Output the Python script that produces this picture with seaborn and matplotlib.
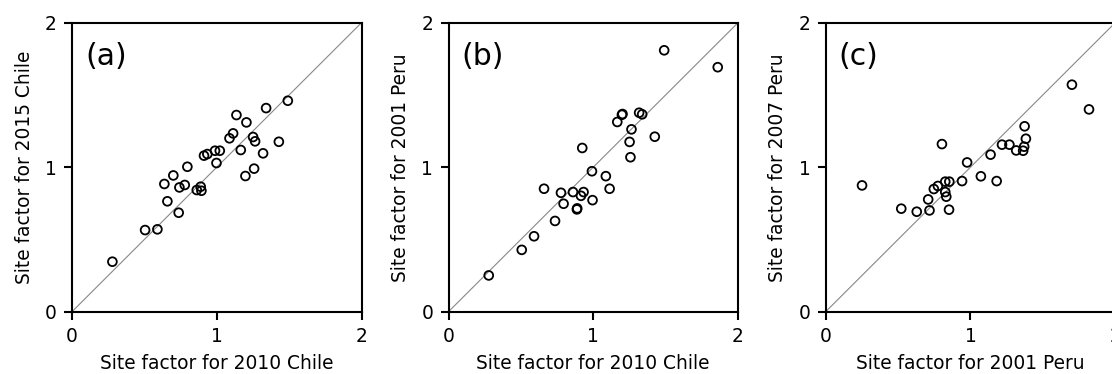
import matplotlib
matplotlib.use("Agg")
import matplotlib.pyplot as plt
import seaborn as sns
import pandas as pd

# Panel (a): 2010 Chile vs 2015 Chile
a_x = [0.279, 0.505, 0.590, 0.737, 0.659, 0.638, 0.700, 0.742, 0.779, 0.797,
       0.862, 0.889, 0.894, 0.912, 0.935, 0.988, 1.021, 0.998, 1.088, 1.113,
       1.136, 1.166, 1.205, 1.198, 1.251, 1.265, 1.258, 1.320, 1.341, 1.429, 1.491]
a_y = [0.346, 0.565, 0.570, 0.685, 0.764, 0.884, 0.943, 0.860, 0.877, 1.003,
       0.842, 0.865, 0.837, 1.080, 1.091, 1.114, 1.114, 1.029, 1.200, 1.234,
       1.361, 1.119, 1.310, 0.939, 1.209, 1.179, 0.990, 1.096, 1.409, 1.176, 1.460]

# Panel (b): 2010 Chile vs 2001 Peru
b_x = [0.278, 0.506, 0.591, 0.736, 0.660, 0.777, 0.795, 0.860, 0.887, 0.889,
       0.915, 0.933, 0.995, 0.991, 0.924, 1.087, 1.113, 1.166, 1.198, 1.202,
       1.264, 1.251, 1.257, 1.317, 1.338, 1.425, 1.490, 1.860]
b_y = [0.251, 0.428, 0.522, 0.628, 0.851, 0.823, 0.747, 0.828, 0.708, 0.715,
       0.802, 0.828, 0.772, 0.972, 1.133, 0.938, 0.851, 1.313, 1.363, 1.368,
       1.262, 1.175, 1.069, 1.377, 1.366, 1.211, 1.809, 1.692]

# Panel (c): 2001 Peru vs 2007 Peru
c_x = [0.251, 0.522, 0.629, 0.717, 0.708, 0.747, 0.775, 0.803, 0.826, 0.854,
       0.826, 0.833, 0.852, 0.942, 0.977, 1.072, 1.139, 1.181, 1.218, 1.269,
       1.316, 1.364, 1.371, 1.383, 1.374, 1.701, 1.819]
c_y = [0.874, 0.713, 0.692, 0.701, 0.777, 0.849, 0.870, 1.160, 0.900, 0.900,
       0.828, 0.796, 0.706, 0.904, 1.033, 0.937, 1.087, 0.904, 1.156, 1.156,
       1.116, 1.114, 1.142, 1.197, 1.283, 1.571, 1.400]

panel_tags = ["(a)", "(b)", "(c)"]
x_labels = ["Site factor for 2010 Chile", "Site factor for 2010 Chile", "Site factor for 2001 Peru"]
y_labels = ["Site factor for 2015 Chile", "Site factor for 2001 Peru", "Site factor for 2007 Peru"]
ticks = [0, 1, 2]
tick_labels = ["0", "1", "2"]

sns.set_style("ticks")
plt.rcParams['font.family'] = ['DejaVu Sans']
plt.rcParams['text.color'] = 'black'
plt.rcParams['axes.labelcolor'] = 'black'
plt.rcParams['xtick.color'] = 'black'
plt.rcParams['ytick.color'] = 'black'
plt.rcParams['axes.edgecolor'] = 'black'

W, H = 1112, 374
fig = plt.figure(figsize=(W / 100, H / 100), dpi=100)

lefts = [72, 448.5, 825.7]
bottom_px = 311.7
top_px = 22.7
size_px = 289.5

datasets = [(a_x, a_y), (b_x, b_y), (c_x, c_y)]
for i, (xs, ys) in enumerate(datasets):
    ax = fig.add_axes([lefts[i] / W, (H - bottom_px) / H, size_px / W, (bottom_px - top_px) / H])
    df = pd.DataFrame({"x": xs, "y": ys})
    ax.plot([0, 2], [0, 2], color="#888888", lw=0.8, zorder=1)
    sns.scatterplot(data=df, x="x", y="y", ax=ax, s=40, facecolor="none",
                    edgecolor="black", linewidth=1.3, zorder=3)
    ax.set_xlim(0, 2)
    ax.set_ylim(0, 2)
    ax.set_xticks(ticks)
    ax.set_yticks(ticks)
    ax.set_xticklabels(tick_labels)
    ax.set_yticklabels(tick_labels)
    ax.set_xlabel(x_labels[i], fontsize=13.4, labelpad=6)
    ax.set_ylabel(y_labels[i], fontsize=13.4, labelpad=8)
    ax.tick_params(axis="both", labelsize=13.4, width=1.5, length=6, direction="out", pad=5)
    for sp in ax.spines.values():
        sp.set_visible(True)
        sp.set_linewidth(1.5)
    ax.text(0.045, 0.882, panel_tags[i], transform=ax.transAxes, fontsize=21.5,
            ha="left", va="center")

fig.savefig("out.png", dpi=100)
